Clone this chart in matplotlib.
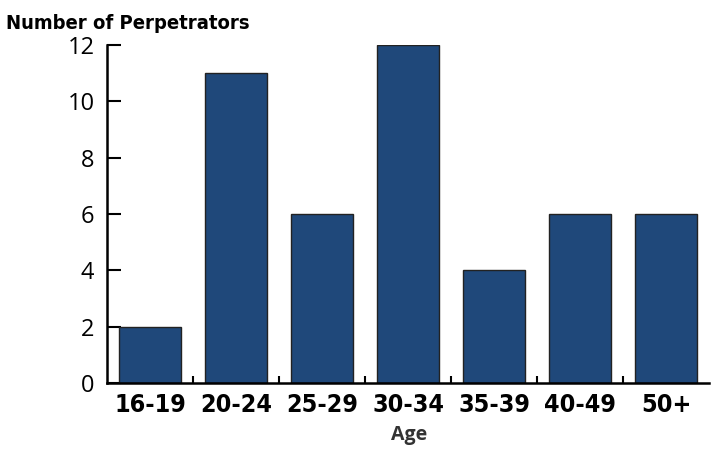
import matplotlib

matplotlib.use("Agg")
import matplotlib.pyplot as plt
import numpy as np
from matplotlib.ticker import FixedLocator

age_groups = ["16-19", "20-24", "25-29", "30-34", "35-39", "40-49", "50+"]
perpetrators = [2, 11, 6, 12, 4, 6, 6]
y_ticks = [0, 2, 4, 6, 8, 10, 12]

bar_color = "#1f487a"
narrow = dict(family=["DejaVu Sans"], fontstretch="condensed", fontweight="bold")

fig = plt.figure(figsize=(7.17, 4.5), dpi=100)
ax = fig.add_axes([0.1492, 0.149, 0.84, 0.751])

x = np.arange(len(age_groups))
ax.bar(x, perpetrators, width=0.72, color=bar_color, edgecolor="#222222", linewidth=1.0, zorder=2)

ax.set_xlim(-0.5, len(age_groups) - 0.5)
ax.set_ylim(0, 12)
ax.set_yticks(y_ticks)
ax.set_yticklabels([str(v) for v in y_ticks], fontsize=17, family=["Open Sans", "DejaVu Sans"])
ax.tick_params(axis="y", direction="in", length=10, width=1.5, pad=9)

ax.set_xticks(x)
ax.set_xticklabels(age_groups, fontsize=18, **narrow)
ax.tick_params(axis="x", which="major", length=0, pad=7)
ax.xaxis.set_minor_locator(FixedLocator(x[:-1] + 0.5))
ax.tick_params(axis="x", which="minor", direction="in", length=5, width=1.5)

for side in ["top", "right"]:
    ax.spines[side].set_visible(False)
for side in ["left", "bottom"]:
    ax.spines[side].set_linewidth(1.8)

fig.text(409 / 717, 1 - 435 / 450, "Age", fontsize=14, fontweight="bold", color="#333333",
         family=["Open Sans", "DejaVu Sans"], ha="center", va="center")
fig.text(0.008, 0.948, "Number of Perpetrators", fontsize=14.5, **narrow, ha="left", va="center")

fig.savefig("out.png", dpi=100)
